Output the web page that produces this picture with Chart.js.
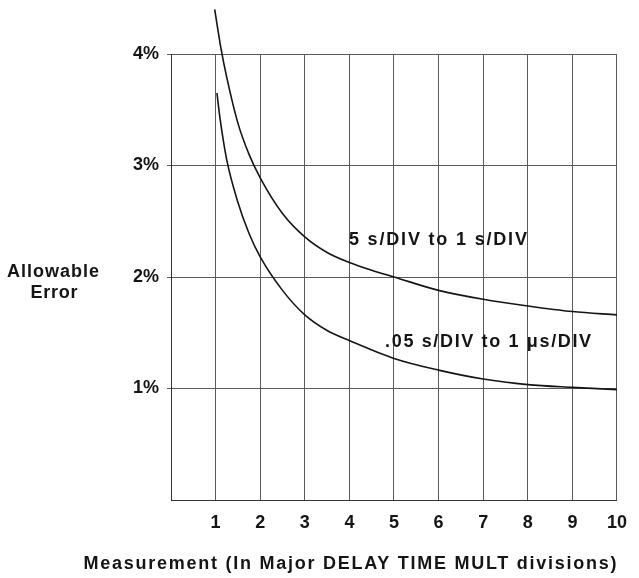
<!DOCTYPE html>
<html>
<head>
<meta charset="utf-8">
<script src="https://cdn.jsdelivr.net/npm/chart.js@4"></script>
<style>
  html, body { margin: 0; padding: 0; background: #fff; }
  #wrap { width: 639px; height: 578px; }
</style>
</head>
<body>
<div id="wrap"><canvas id="errChart" width="639" height="578"></canvas></div>
<script>
// Allowable error vs. measurement (major DELAY TIME MULT divisions)
const xTicks = [1, 2, 3, 4, 5, 6, 7, 8, 9, 10];
const yTicks = [1, 2, 3, 4];

// 5 s/DIV to 1 s/DIV
const slowX = [0.98, 1.05, 1.12, 1.25, 1.5, 1.75, 2, 2.5, 3, 3.5, 4, 4.5, 5, 6, 7, 8, 9, 10];
const slowY = [4.40, 4.22, 4.05, 3.79, 3.38, 3.10, 2.89, 2.57, 2.36, 2.22, 2.13, 2.06, 2.00, 1.88, 1.80, 1.74, 1.69, 1.66];

// .05 s/DIV to 1 us/DIV
const fastX = [1.03, 1.1, 1.25, 1.5, 1.75, 2, 2.5, 3, 3.5, 4, 5, 6, 7, 8, 9, 10];
const fastY = [3.65, 3.42, 3.05, 2.67, 2.39, 2.18, 1.88, 1.66, 1.52, 1.43, 1.27, 1.165, 1.085, 1.035, 1.01, 0.99];

const FONT = '"Liberation Sans", Arial, Helvetica, sans-serif';
const INK = '#151515';
const GRID = '#5a5a5a';

const toPoints = (xs, ys) => xs.map((x, i) => ({ x, y: ys[i] }));

// draw text stretched with letter spacing to look like the old tracked typesetting
function drawTracked(ctx, text, x, y, align, width) {
  ctx.letterSpacing = '0px';
  const plain = ctx.measureText(text).width;
  const ls = text.length > 1 ? Math.max(0, (width - plain) / (text.length - 1)) : 0;
  ctx.letterSpacing = ls + 'px';
  const w = plain + ls * (text.length - 1);
  let left = x;
  if (align === 'center') left = x - w / 2;
  if (align === 'right') left = x - w;
  ctx.textAlign = 'left';
  ctx.fillText(text, left, y);
  ctx.letterSpacing = '0px';
}

const labelsPlugin = {
  id: 'labels',
  afterDraw(chart) {
    const { ctx, scales } = chart;
    const sx = scales.x, sy = scales.y;
    ctx.save();
    ctx.fillStyle = INK;
    ctx.textBaseline = 'alphabetic';
    ctx.font = 'bold 18px ' + FONT;

    // curve labels
    drawTracked(ctx, '5 s/DIV to 1 s/DIV', sx.getPixelForValue(3.99), sy.getPixelForValue(2.288), 'left', 178);
    drawTracked(ctx, '.05 s/DIV to 1 \u03bcs/DIV', sx.getPixelForValue(4.80), sy.getPixelForValue(1.368), 'left', 206);

    // y axis title
    drawTracked(ctx, 'Allowable', 53, sy.getPixelForValue(2.0), 'center', 92);
    drawTracked(ctx, 'Error', 54, sy.getPixelForValue(1.81), 'center', 47);

    // x axis title
    drawTracked(ctx, 'Measurement (In Major DELAY TIME MULT divisions)', 350, 569, 'center', 533);
    ctx.restore();
  }
};

const lineStyle = {
  borderColor: INK,
  borderWidth: 1.6,
  pointRadius: 0,
  cubicInterpolationMode: 'monotone',
  clip: false
};

new Chart(document.getElementById('errChart'), {
  type: 'line',
  data: {
    datasets: [
      { label: '5 s/DIV to 1 s/DIV', data: toPoints(slowX, slowY), ...lineStyle },
      { label: '.05 s/DIV to 1 \u03bcs/DIV', data: toPoints(fastX, fastY), ...lineStyle }
    ]
  },
  options: {
    responsive: false,
    animation: false,
    devicePixelRatio: 1,
    layout: { padding: { top: 54, right: 22, left: 0, bottom: 0 } },
    plugins: {
      legend: { display: false },
      tooltip: { enabled: false }
    },
    scales: {
      x: {
        type: 'linear',
        min: 0,
        max: 10,
        afterBuildTicks: s => { s.ticks = [0, ...xTicks].map(v => ({ value: v })); },
        afterFit: s => { s.height = 78; },
        ticks: {
          color: INK,
          font: { family: FONT, size: 18, weight: 'bold' },
          padding: 12,
          maxRotation: 0,
          callback: v => (v === 0 ? '' : v)
        },
        grid: { color: GRID, lineWidth: 1, drawTicks: false },
        border: { display: true, color: '#333', width: 1 }
      },
      y: {
        type: 'linear',
        min: 0,
        max: 4,
        afterBuildTicks: s => { s.ticks = [0, ...yTicks].map(v => ({ value: v })); },
        afterFit: s => { s.width = 171; },
        ticks: {
          color: INK,
          font: { family: FONT, size: 18, weight: 'bold' },
          padding: 8,
          callback: v => (v === 0 ? '' : v + '%')
        },
        grid: {
          color: GRID,
          lineWidth: 1,
          tickLength: 4,
          tickColor: c => (c.tick && c.tick.value === 0 ? 'rgba(0,0,0,0)' : GRID)
        },
        border: { display: true, color: '#333', width: 1 }
      }
    }
  },
  plugins: [labelsPlugin]
});
</script>
</body>
</html>
